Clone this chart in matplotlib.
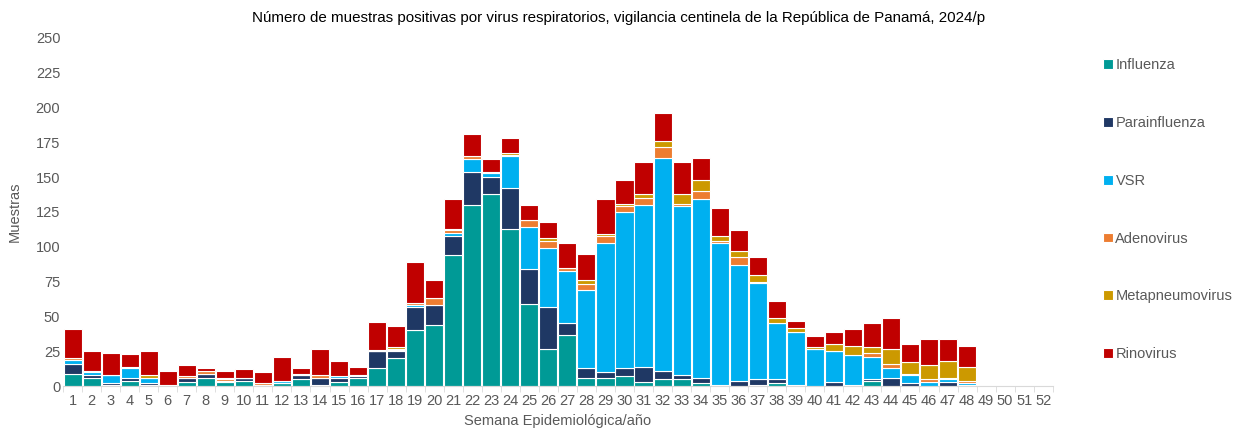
import numpy as np
import matplotlib.pyplot as plt

plt.rcParams["font.family"] = ["Liberation Sans", "DejaVu Sans"]

weeks = list(range(1, 53))

# weekly positives per virus, epi weeks 1-48 (49-52 not yet reported)
influenza = [9, 6, 1, 4, 1, 1, 3, 6, 3, 4, 1, 2, 5, 1, 3, 6, 13, 20, 40, 44,
             94, 130, 138, 113, 59, 27, 37, 6, 6, 7, 3, 5, 5, 2, 0, 0, 1, 2, 1, 0,
             0, 0, 4, 0, 0, 0, 0, 0]
parainfluenza = [7, 2, 1, 2, 1, 0, 3, 3, 1, 2, 0, 0, 3, 5, 3, 1, 12, 5, 17, 14,
                 14, 24, 12, 29, 25, 30, 8, 7, 4, 6, 11, 6, 3, 4, 1, 4, 4, 3, 0, 0,
                 3, 1, 1, 6, 2, 0, 3, 1]
vsr = [3, 2, 6, 7, 4, 0, 0, 0, 0, 0, 0, 2, 0, 0, 1, 1, 0, 1, 1, 0,
       2, 9, 3, 23, 30, 42, 38, 56, 93, 112, 116, 153, 121, 128, 102, 83, 69, 40, 38, 27,
       22, 21, 16, 7, 6, 3, 2, 1]
adenovirus = [1, 1, 0, 1, 0, 0, 1, 2, 1, 0, 1, 0, 1, 2, 0, 0, 0, 1, 2, 5,
              2, 2, 1, 1, 5, 5, 2, 4, 5, 4, 5, 8, 2, 6, 1, 6, 1, 0, 0, 0,
              0, 0, 3, 3, 1, 2, 1, 2]
metapneumovirus = [0, 0, 0, 0, 2, 0, 0, 0, 1, 0, 0, 0, 0, 0, 0, 0, 1, 1, 0, 0,
                   1, 0, 0, 1, 0, 2, 0, 3, 1, 2, 3, 4, 7, 8, 4, 4, 5, 4, 3, 1,
                   5, 7, 4, 11, 8, 10, 12, 10]
rinovirus = [21, 14, 16, 9, 17, 10, 8, 2, 5, 6, 8, 17, 4, 19, 11, 6, 20, 15, 29, 13,
             21, 16, 9, 11, 11, 12, 18, 19, 25, 17, 23, 20, 23, 16, 20, 15, 13, 12, 5, 8,
             9, 12, 17, 22, 13, 19, 16, 15]

series = [
    ("Influenza", influenza, "#009A96"),
    ("Parainfluenza", parainfluenza, "#1F3864"),
    ("VSR", vsr, "#00B0F0"),
    ("Adenovirus", adenovirus, "#ED7D31"),
    ("Metapneumovirus", metapneumovirus, "#CC9900"),
    ("Rinovirus", rinovirus, "#C00000"),
]

grey = "#595959"
fig = plt.figure(figsize=(12.37, 4.30), dpi=100)
ax = fig.add_axes([0.051, 0.102, 0.800, 0.810])

n = len(influenza)
x = np.arange(1, n + 1)
bottom = np.zeros(n)
for name, values, color in series:
    v = np.asarray(values, dtype=float)
    ax.bar(x, v, width=0.95, bottom=bottom, color=color, edgecolor="white",
           linewidth=0.8, label=name)
    bottom += v

ax.set_xlim(0.5, 52.5)
ax.set_ylim(0, 250)
ax.set_yticks(np.arange(0, 251, 25))
ax.set_xticks(weeks)
ax.set_xticks(np.arange(0.5, 53, 1), minor=True)
ax.tick_params(axis="x", which="major", length=0, labelsize=10.5, colors=grey, pad=6)
ax.tick_params(axis="x", which="minor", length=4, color="#D9D9D9")
ax.tick_params(axis="y", length=0, labelsize=10.5, colors=grey, pad=2)

for side in ["top", "right", "left"]:
    ax.spines[side].set_visible(False)
ax.spines["bottom"].set_color("#D9D9D9")

ax.set_ylabel("Muestras", fontsize=10.5, color=grey, labelpad=10)
ax.set_xlabel("Semana Epidemiológica/año", fontsize=10.5, color=grey, labelpad=4)
fig.suptitle("Número de muestras positivas por virus respiratorios, vigilancia centinela de la República de Panamá, 2024/p",
             fontsize=10.9, y=0.975, color="black")

leg = fig.legend(loc="upper left", bbox_to_anchor=(0.887, 0.878), frameon=False,
                 fontsize=10.5, labelspacing=3.0, handlelength=0.65, handleheight=0.65,
                 handletextpad=0.2, borderaxespad=0)
for t in leg.get_texts():
    t.set_color(grey)

fig.savefig("out.png", dpi=100)
